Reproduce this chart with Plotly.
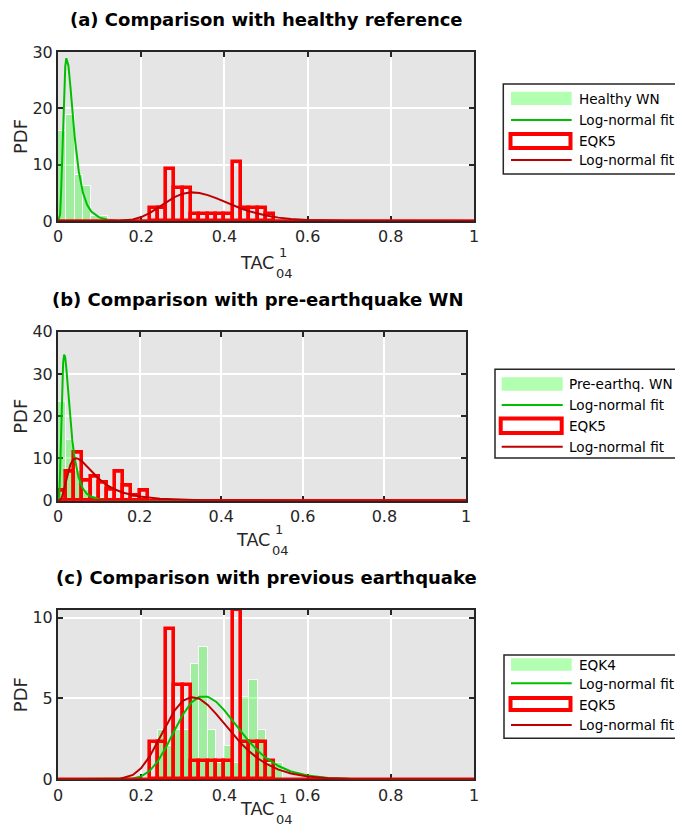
import plotly.graph_objects as go

# ---------------- data ----------------
BIN_W = 0.02
X_RANGE = [0, 1]
X_TICKS = [0, 0.2, 0.4, 0.6, 0.8, 1]
X_TICK_TEXT = ["0", "0.2", "0.4", "0.6", "0.8", "1"]
X_LABEL = "TAC"
X_LABEL_SUP = "1"
X_LABEL_SUB = "04"
Y_LABEL = "PDF"

# (a) Healthy WN vs EQK5
a_title = "(a) Comparison with healthy reference"
a_green_name = "Healthy WN"
a_green_start = 0.0
a_green_pdf = [15.9, 18.8, 8.1, 6.2, 0.9, 0.9]
a_green_fit_x = [0, 0.005, 0.0075, 0.01, 0.0125, 0.015, 0.0175, 0.02, 0.025, 0.03, 0.04,
                 0.05, 0.06, 0.07, 0.08, 0.10, 0.12, 0.14, 0.2, 1.0]
a_green_fit_y = [0, 1.09, 5.33, 12.0, 18.9, 24.2, 27.5, 28.9, 27.6, 23.7, 15.0,
                 8.75, 5.0, 2.88, 1.68, 0.60, 0.23, 0.09, 0.0, 0.0]
a_y_range = [0, 30]
a_y_ticks = [0, 10, 20, 30]

# EQK5 (used in a and c)
eqk5_start = 0.22
eqk5_pdf = [2.33, 2.33, 9.30, 5.81, 5.81, 1.16, 1.16, 1.16, 1.16, 1.16,
            10.47, 2.33, 2.33, 2.33, 1.16]
eqk5_fit_x = [0, 0.15, 0.18, 0.20, 0.22, 0.24, 0.26, 0.28, 0.30, 0.32, 0.34, 0.36, 0.38,
              0.40, 0.42, 0.44, 0.46, 0.48, 0.50, 0.53, 0.56, 0.60, 0.65, 0.70, 1.0]
eqk5_fit_y = [0, 0.03, 0.27, 0.70, 1.40, 2.35, 3.38, 4.25, 4.85, 5.08, 4.98, 4.60, 4.05,
              3.42, 2.80, 2.22, 1.72, 1.30, 0.97, 0.60, 0.36, 0.18, 0.07, 0.025, 0]

# (b) Pre-earthquake WN vs EQK5
b_title = "(b) Comparison with pre-earthquake WN"
b_green_name = "Pre-earthq. WN"
b_green_start = 0.0
b_green_pdf = [23.4, 14.4, 7.0, 2.5, 1.3, 0.7]
b_green_fit_x = [0, 0.003, 0.005, 0.0075, 0.01, 0.0125, 0.015, 0.0175, 0.02, 0.025, 0.03,
                 0.035, 0.04, 0.05, 0.06, 0.07, 0.08, 0.10, 0.12, 0.15, 1.0]
b_green_fit_y = [0, 0.98, 6.4, 17.3, 26.9, 32.6, 34.6, 34.0, 31.8, 25.6, 19.5,
                 14.4, 10.6, 5.65, 3.07, 1.71, 0.98, 0.35, 0.14, 0.04, 0]
b_red_start = 0.0
b_red_pdf = [2.35, 6.85, 11.45, 4.75, 5.75, 4.15, 2.55, 6.85, 3.55, 1.2, 2.35]
b_red_fit_x = [0, 0.005, 0.01, 0.015, 0.02, 0.025, 0.03, 0.035, 0.04, 0.045, 0.05, 0.06,
               0.07, 0.08, 0.10, 0.12, 0.14, 0.16, 0.18, 0.20, 0.25, 0.30, 0.35, 0.40,
               0.50, 0.60, 1.0]
b_red_fit_y = [0, 0.07, 0.96, 2.87, 5.07, 7.0, 8.44, 9.39, 9.87, 10.02, 9.90, 9.20,
               8.19, 7.11, 5.18, 3.70, 2.64, 1.90, 1.37, 1.00, 0.48, 0.24, 0.13, 0.07,
               0.025, 0.01, 0]
b_y_range = [0, 40]
b_y_ticks = [0, 10, 20, 30, 40]

# (c) EQK4 vs EQK5
c_title = "(c) Comparison with previous earthquake"
c_green_name = "EQK4"
c_green_start = 0.24
c_green_pdf = [3.06, 2.04, 3.06, 3.06, 7.14, 8.16, 3.06, 1.02, 2.04, 1.02,
               5.10, 6.12, 3.06, 1.02, 1.02]
c_green_fit_x = [0, 0.18, 0.20, 0.22, 0.24, 0.26, 0.28, 0.30, 0.32, 0.34, 0.36, 0.38,
                 0.40, 0.42, 0.44, 0.46, 0.48, 0.50, 0.53, 0.56, 0.60, 0.65, 0.70, 1.0]
c_green_fit_y = [0, 0.045, 0.18, 0.51, 1.12, 2.00, 3.02, 3.99, 4.73, 5.11, 5.11, 4.80,
                 4.26, 3.61, 2.94, 2.32, 1.77, 1.32, 0.82, 0.48, 0.23, 0.085, 0.03, 0]
c_y_range = [0, 10.47]
c_y_ticks = [0, 5, 10]

red_name = "EQK5"
fit_name = "Log-normal fit"

# ---------------- styling ----------------
PAGE_OFF = 8            # default body margin of the html page
W, H = 683 - 2 * PAGE_OFF, 836 - 2 * PAGE_OFF
FONT = "DejaVu Sans"
AX_COL = "#262626"
GREEN_FILL = "rgba(0,255,0,0.3)"
GREEN_LINE = "#00bf00"
RED = "#ff0000"
DARK_RED = "#bf0000"
TICK_FS = 16
LABEL_FS = 17.6
SCRIPT_FS = 13
ASC_DESC_MID = 0.346     # (ascent - descent) / 2 of DejaVu Sans, in em


def px(x):
    """page pixel x -> paper fraction"""
    return (x - PAGE_OFF) / W


def py(y):
    """page pixel y -> paper fraction"""
    return 1 - (y - PAGE_OFF) / H


# panel boxes in page pixels: (left, right, top, bottom)
boxes = [(58, 474, 52, 221), (58, 466, 331.7, 500.7), (58, 474, 610, 779.3)]
x_label_drop = [48, 45, 35.5]          # baseline of x label below the axis
title_pos = [(266, 19.7), (257.5, 299), (266, 577)]

fig = go.Figure()


def centers(start, vals):
    return [start + BIN_W * (i + 0.5) for i in range(len(vals))]


panels = [
    dict(green_start=a_green_start, green=a_green_pdf, gfx=a_green_fit_x, gfy=a_green_fit_y,
         red_start=eqk5_start, red=eqk5_pdf, rfx=eqk5_fit_x, rfy=eqk5_fit_y,
         yr=a_y_range, yt=a_y_ticks, title=a_title, gname=a_green_name),
    dict(green_start=b_green_start, green=b_green_pdf, gfx=b_green_fit_x, gfy=b_green_fit_y,
         red_start=b_red_start, red=b_red_pdf, rfx=b_red_fit_x, rfy=b_red_fit_y,
         yr=b_y_range, yt=b_y_ticks, title=b_title, gname=b_green_name),
    dict(green_start=c_green_start, green=c_green_pdf, gfx=c_green_fit_x, gfy=c_green_fit_y,
         red_start=eqk5_start, red=eqk5_pdf, rfx=eqk5_fit_x, rfy=eqk5_fit_y,
         yr=c_y_range, yt=c_y_ticks, title=c_title, gname=c_green_name),
]

annotations = []
shapes = []


def label(text, x, y_base, size, xanchor, color=AX_COL, bold=False):
    """text whose baseline sits at page pixel y_base"""
    return dict(text=("<b>%s</b>" % text) if bold else text, x=px(x),
                y=py(y_base - ASC_DESC_MID * size), xref="paper", yref="paper",
                showarrow=False, xanchor=xanchor, yanchor="middle", borderpad=0,
                font=dict(family=FONT, size=size, color=color))


for i, p in enumerate(panels):
    n = "" if i == 0 else str(i + 1)
    xa, ya = "x" + n, "y" + n
    fig.add_trace(go.Bar(x=centers(p["green_start"], p["green"]), y=p["green"], width=BIN_W,
                         marker=dict(color=GREEN_FILL, line=dict(color="rgba(255,255,255,0.9)", width=1)),
                         name=p["gname"], xaxis=xa, yaxis=ya, showlegend=False))
    fig.add_trace(go.Scatter(x=p["gfx"], y=p["gfy"], mode="lines",
                             line=dict(color=GREEN_LINE, width=2), name=fit_name,
                             xaxis=xa, yaxis=ya, showlegend=False))
    fig.add_trace(go.Bar(x=centers(p["red_start"], p["red"]), y=p["red"], width=BIN_W,
                         marker=dict(color="rgba(0,0,0,0)", line=dict(color=RED, width=3.6)),
                         name=red_name, xaxis=xa, yaxis=ya, showlegend=False))
    # empty bins of the red histogram sit on the baseline across the whole range
    fig.add_trace(go.Scatter(x=X_RANGE, y=[p["yr"][0]] * 2, mode="lines",
                             line=dict(color=RED, width=3.6), cliponaxis=False,
                             xaxis=xa, yaxis=ya, showlegend=False, hoverinfo="skip"))
    fig.add_trace(go.Scatter(x=p["rfx"], y=p["rfy"], mode="lines",
                             line=dict(color=DARK_RED, width=2), name=fit_name,
                             xaxis=xa, yaxis=ya, showlegend=False))

    l, r, t, b = boxes[i]
    axcommon = dict(showline=True, linecolor=AX_COL, linewidth=2, mirror="ticks",
                    ticks="inside", ticklen=5, tickwidth=1.5, tickcolor=AX_COL,
                    showgrid=True, gridcolor="white", gridwidth=2, zeroline=False,
                    automargin=False,
                    tickfont=dict(family=FONT, size=TICK_FS, color=AX_COL), layer="below traces")
    fig.update_layout(**{
        "xaxis" + n: dict(domain=[px(l), px(r)], range=X_RANGE, tickvals=X_TICKS,
                          ticktext=X_TICK_TEXT, anchor=ya, **axcommon),
        "yaxis" + n: dict(domain=[py(b), py(t)], range=p["yr"], tickvals=p["yt"],
                          anchor=xa,
                          title=dict(text=Y_LABEL, standoff=0,
                                     font=dict(family=FONT, size=18, color=AX_COL)),
                          **axcommon),
    })
    cx = (l + r) / 2
    tx, ty = title_pos[i]
    annotations.append(label(p["title"], tx, ty + ASC_DESC_MID * 18, 18, "center",
                             color="black", bold=True))
    base = b + x_label_drop[i]
    annotations.append(label(X_LABEL, cx + 9, base, LABEL_FS, "right"))
    annotations.append(label(X_LABEL_SUP, cx + 17, base - 12, SCRIPT_FS, "center"))
    annotations.append(label(X_LABEL_SUB, cx + 18.5, base + 9, SCRIPT_FS, "center"))

# ---------------- legends (drawn boxes) ----------------
LEG_FS = 13.6
legends = [
    dict(box=(503.3, 84, 174), gx=(511, 571.7), gy=(91.7, 105), ly=120,
         rx=(510.5, 570.5), ry=(134, 148), dy=160, tx=576.5, ty=[99, 120, 141, 160],
         labels=[a_green_name, fit_name, red_name, fit_name]),
    dict(box=(495, 369.3, 458), gx=(501.7, 562.7), gy=(377.3, 390.7), ly=405,
         rx=(500.7, 561.7), ry=(418.5, 433), dy=446.7, tx=566.5, ty=[384, 405, 426, 447],
         labels=[b_green_name, fit_name, red_name, fit_name]),
    dict(box=(504, 655, 738.3), gx=(511, 571.7), gy=(658.3, 670.7), ly=683.3,
         rx=(510.5, 570.5), ry=(698, 710), dy=725, tx=576.5, ty=[665, 684, 705, 725],
         labels=[c_green_name, fit_name, red_name, fit_name]),
]
for L in legends:
    bx, by0, by1 = L["box"]
    shapes.append(dict(type="rect", xref="paper", yref="paper", x0=px(bx), x1=px(700),
                       y0=py(by1), y1=py(by0), line=dict(color=AX_COL, width=1.5),
                       fillcolor="white", layer="above"))
    shapes.append(dict(type="rect", xref="paper", yref="paper", x0=px(L["gx"][0]), x1=px(L["gx"][1]),
                       y0=py(L["gy"][1]), y1=py(L["gy"][0]), line=dict(width=0),
                       fillcolor=GREEN_FILL, layer="above"))
    shapes.append(dict(type="line", xref="paper", yref="paper", x0=px(L["gx"][0]), x1=px(L["gx"][1]),
                       y0=py(L["ly"]), y1=py(L["ly"]), line=dict(color=GREEN_LINE, width=2),
                       layer="above"))
    shapes.append(dict(type="rect", xref="paper", yref="paper", x0=px(L["rx"][0]), x1=px(L["rx"][1]),
                       y0=py(L["ry"][1]), y1=py(L["ry"][0]), line=dict(color=RED, width=4),
                       fillcolor="white", layer="above"))
    shapes.append(dict(type="line", xref="paper", yref="paper", x0=px(L["gx"][0]), x1=px(L["gx"][1]),
                       y0=py(L["dy"]), y1=py(L["dy"]), line=dict(color=DARK_RED, width=2),
                       layer="above"))
    for lab, ty in zip(L["labels"], L["ty"]):
        annotations.append(dict(text=lab, x=px(L["tx"]), y=py(ty), xref="paper", yref="paper",
                                showarrow=False, xanchor="left", yanchor="middle",
                                font=dict(family=FONT, size=LEG_FS, color="black")))

fig.update_layout(width=W, height=H, margin=dict(l=0, r=0, t=0, b=0, pad=0),
                  paper_bgcolor="white", plot_bgcolor="#e5e5e5", barmode="overlay",
                  bargap=0, showlegend=False, annotations=annotations, shapes=shapes,
                  font=dict(family=FONT))

fig.write_html("out.html")
